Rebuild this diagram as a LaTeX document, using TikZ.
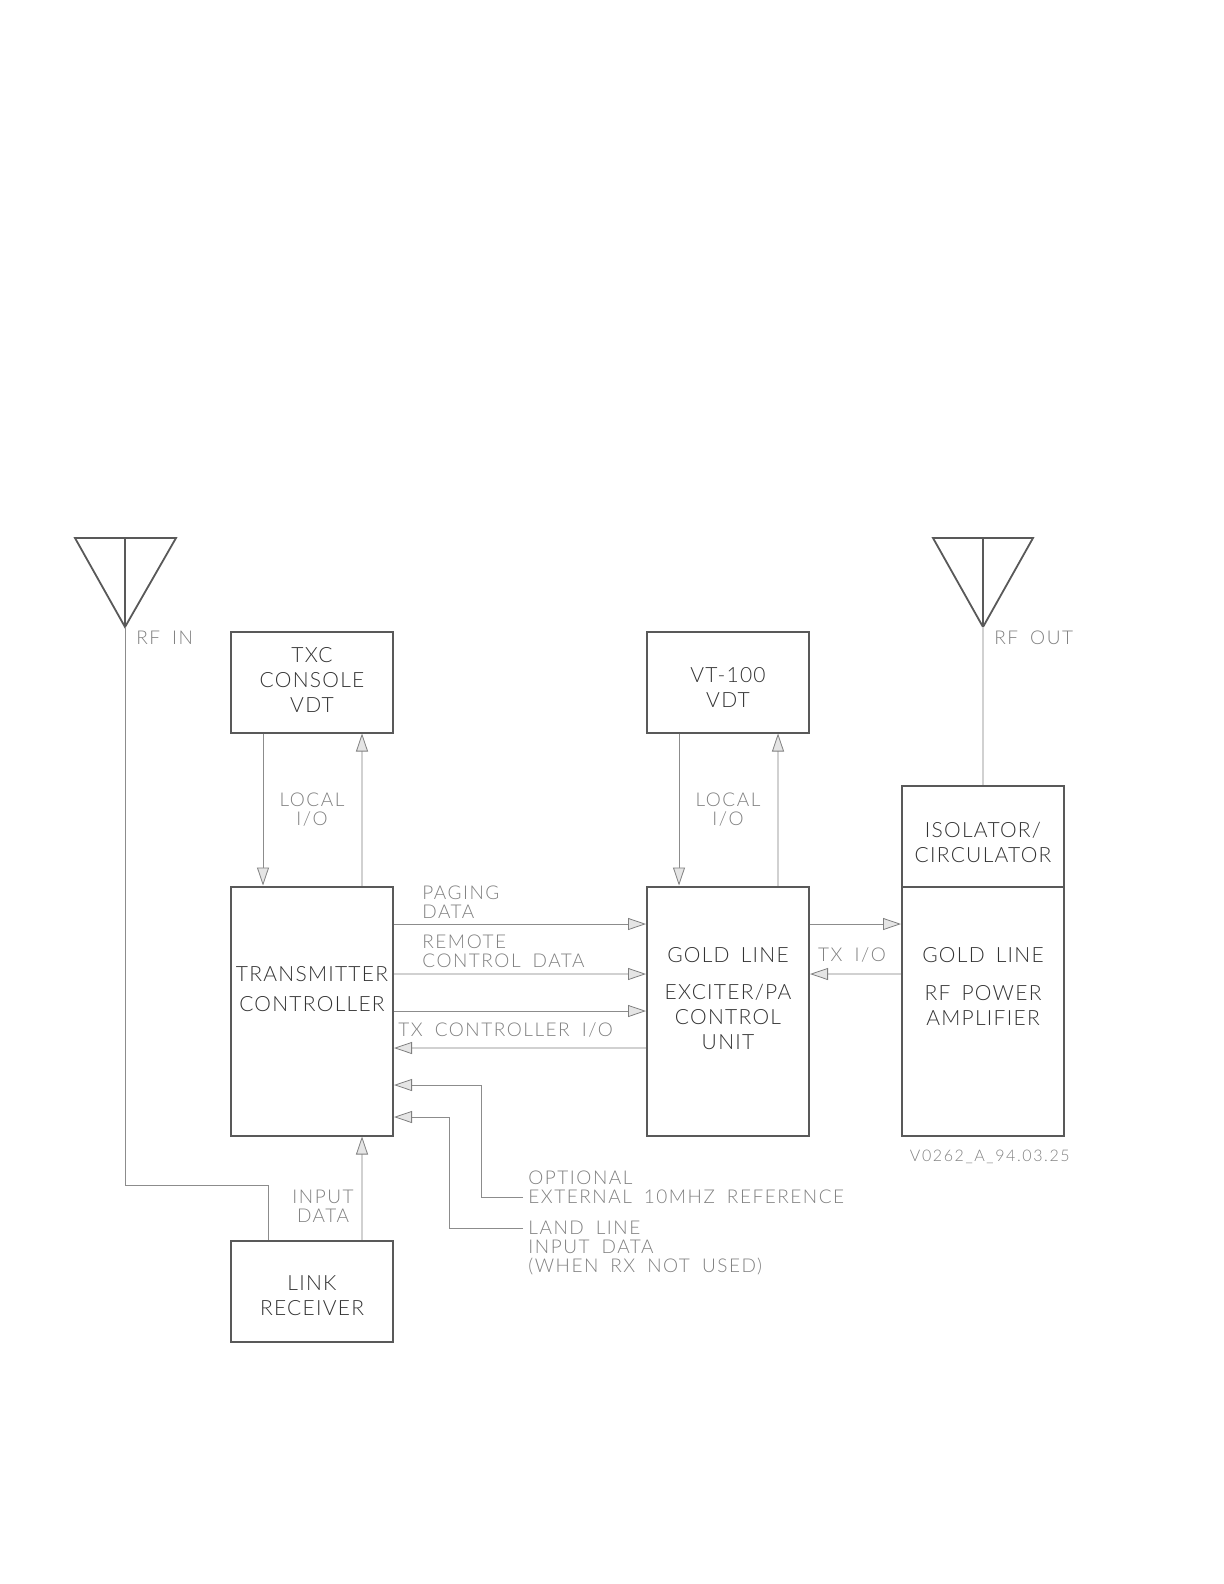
\documentclass[tikz,border=0pt]{standalone}
\usepackage{fontspec}
\setmainfont{Lato}[UprightFont=* Light]
\newfontfamily\boxfont{Lato}[UprightFont=* Light,LetterSpace=6,WordSpace=1.6]
\newfontfamily\labelfont{Lato}[UprightFont=* Light,LetterSpace=8,WordSpace=1.8]
\newfontfamily\versionfont{Lato}[UprightFont=* Light,LetterSpace=10]
\usepackage{xcolor}
\usetikzlibrary{positioning, calc, arrows.meta}
\definecolor{boxline}{gray}{0.35}
\definecolor{linkdark}{gray}{0.55}
\definecolor{linklight}{gray}{0.82}
\definecolor{boxtext}{gray}{0.2}
\definecolor{labeltext}{gray}{0.5}
\tikzset{
    block/.style = {draw=boxline, line width=1pt, inner sep=0pt, minimum width=81pt},
    shortblock/.style = {block, minimum height=50.5pt},
    tallblock/.style = {block, minimum height=124.5pt},
    blocktext/.style = {inner sep=0pt, align=center, text=boxtext, font=\boxfont\fontsize{10.5}{12.5}\selectfont},
    sigtext/.style = {inner sep=0pt, align=center, text=labeltext, font=\labelfont\fontsize{9.5}{9.5}\selectfont},
    sigleft/.style = {sigtext, align=left, anchor=west},
    sigdark/.style = {->, draw=linkdark, line width=.5pt},
    siglight/.style = {->, draw=linklight, line width=.6pt},
    antenna/.style = {draw=boxline, line width=.9pt, line join=miter},
    >={Triangle[length=9pt, width=6pt, line width=.4pt, color=gray, fill=gray!20]},
}
\begin{document}
\begin{tikzpicture}[x=.5pt,y=-.5pt]
        \useasboundingbox (0,0) rectangle (1224,1584);
        \node [tallblock] (tctrl) at (312,1011) {};
        \node [tallblock, right=126pt of tctrl] (exciter) {};
        \node [tallblock, right=45.5pt of exciter] (amp) {};
        \node [shortblock, above=76pt of tctrl] (txc) {};
        \node [shortblock, above=76pt of exciter] (vt) {};
        \node [shortblock, above=-1pt of amp] (iso) {};
        \node [shortblock, below=51.5pt of tctrl] (link) {};
        \node [blocktext] (txctext) at ($(txc.center)+(0,-2)$) {TXC\\CONSOLE\\VDT};
        \node [blocktext] (vttext) at ($(vt.center)+(0,5)$) {VT-100\\VDT};
        \node [blocktext] (isotext) at ($(iso.center)+(0,6)$) {ISOLATOR/\\CIRCULATOR};
        \node [blocktext] (linktext) at ($(link.center)+(0,5)$) {LINK\\RECEIVER};
        \node [blocktext] (tctrltext) at ($(tctrl.center)+(0,-22)$) {TRANSMITTER\\[2.5pt]CONTROLLER};
        \node [blocktext] (goldexc) at ($(exciter.center)+(0,-56)$) {GOLD LINE};
        \node [blocktext] (exctext) at ($(exciter.center)+(0,6)$) {EXCITER/PA\\CONTROL\\UNIT};
        \node [blocktext] (goldamp) at ($(amp.center)+(0,-56)$) {GOLD LINE};
        \node [blocktext] (amptext) at ($(amp.center)+(0,-6)$) {RF POWER\\AMPLIFIER};
        % antennas
        \coordinate (rxtip) at (125,627);
        \coordinate (txtip) at (983,627);
        \draw [antenna] (75,538) coordinate (rxa) -- (176,538) coordinate (rxb) -- (rxtip) -- cycle;
        \draw [antenna] (rxtip) -- (rxtip |- rxa);
        \draw [antenna] (933,538) coordinate (txa) -- (1033,538) coordinate (txb) -- (txtip) -- cycle;
        \draw [antenna] (txtip) -- (txtip |- txa);
        \draw [draw=linkdark, line width=.5pt] (rxtip) -- (125,1185) coordinate (rxcorner) -- (rxcorner -| 268,0) coordinate (rxturn) -- (rxturn |- link.north);
        \draw [draw=linklight, line width=.7pt] (txtip) -- (iso.north -| txtip);
        % between the blocks
        \draw [sigdark] (263,0 |- txc.south) -- (263,0 |- tctrl.north);
        \draw [siglight] (362,0 |- tctrl.north) -- (362,0 |- txc.south);
        \draw [sigdark] (679,0 |- vt.south) -- (679,0 |- exciter.north);
        \draw [siglight] (778,0 |- exciter.north) -- (778,0 |- vt.south);
        \draw [sigdark] (tctrl.east |- 0,924) -- (exciter.west |- 0,924);
        \draw [siglight] (tctrl.east |- 0,974) -- (exciter.west |- 0,974);
        \draw [sigdark] (tctrl.east |- 0,1011) -- (exciter.west |- 0,1011);
        \draw [siglight] (exciter.west |- 0,1048) -- (tctrl.east |- 0,1048);
        \draw [sigdark] (exciter.east |- 0,924) -- (amp.west |- 0,924);
        \draw [siglight] (amp.west |- 0,974) -- (exciter.east |- 0,974);
        \draw [siglight] (362,0 |- link.north) -- (362,0 |- tctrl.south);
        \draw [sigdark] (523,1197) -- (481,1197) -- (481,1085) -- (tctrl.east |- 0,1085);
        \draw [sigdark] (523,1228) -- (449,1228) -- (449,1117) -- (tctrl.east |- 0,1117);
        % labels
        \node [sigleft] (rfin) at (136,638) {RF IN};
        \node [sigleft] (rfout) at (994,638) {RF OUT};
        \node [sigtext] (localone) at (312,810) {LOCAL\\I/O};
        \node [sigtext] (localtwo) at (728,810) {LOCAL\\I/O};
        \node [sigleft] (paging) at (422,902) {PAGING\\DATA};
        \node [sigleft] (remote) at (422,951) {REMOTE\\CONTROL DATA};
        \node [sigleft] (txcio) at (398,1030) {TX CONTROLLER I/O};
        \node [sigtext] (txio) at (852,955) {TX I/O};
        \node [sigtext] (inputdata) at (323,1206) {INPUT\\DATA};
        \node [sigleft] (optional) at (528,1187) {OPTIONAL\\EXTERNAL 10MHZ REFERENCE};
        \node [sigleft] (landline) at (528,1248) {LAND LINE\\INPUT DATA\\(WHEN RX NOT USED)};
        \node [sigleft, font=\versionfont\fontsize{8}{9.5}\selectfont, anchor=east] (version) at (1070,1157) {V0262\_A\_94.03.25};
\end{tikzpicture}
\end{document}
